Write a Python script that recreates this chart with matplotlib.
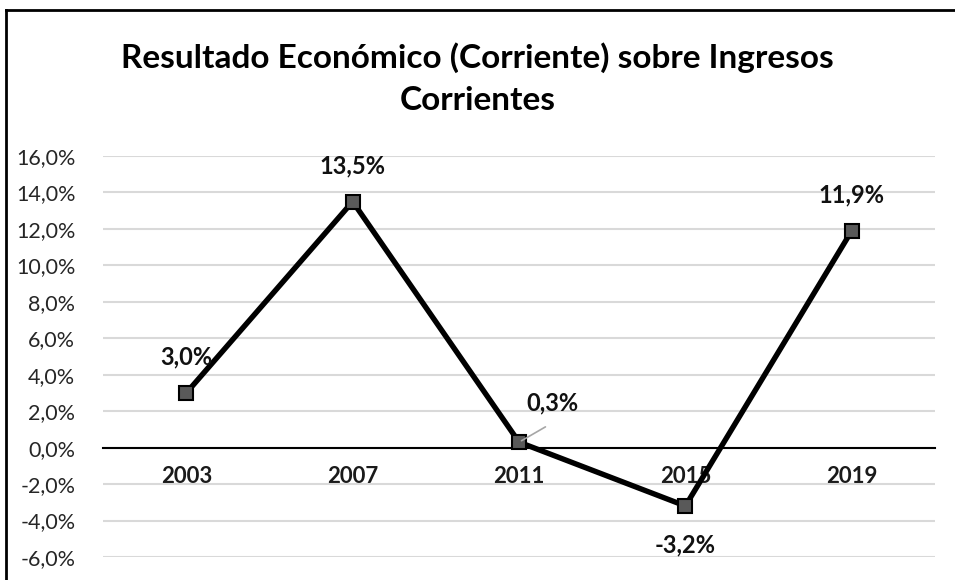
import matplotlib
matplotlib.use("Agg")
from matplotlib import pyplot as plt
from matplotlib.ticker import FuncFormatter

years = ["2003", "2007", "2011", "2015", "2019"]
values = [3.0, 13.5, 0.3, -3.2, 11.9]
y_ticks = [-6, -4, -2, 0, 2, 4, 6, 8, 10, 12, 14, 16]
title = "Resultado Económico (Corriente) sobre Ingresos\nCorrientes"

plt.rcParams["font.family"] = ["Lato", "DejaVu Sans"]

fig = plt.figure(figsize=(9.55, 5.8), dpi=100)
ax = fig.add_axes([0.108, 0.0397, 0.871, 0.6913])

xs = list(range(len(years)))
ax.plot(xs, values, color="black", lw=3.9, zorder=4,
        marker="s", markersize=10, markerfacecolor="#595959",
        markeredgecolor="black", markeredgewidth=1.5)

ax.set_xlim(-0.5, len(years) - 0.5)
ax.set_ylim(-6, 16)
ax.set_yticks(y_ticks)
ax.yaxis.set_major_formatter(FuncFormatter(lambda v, p: f"{v:.1f}%".replace(".", ",")))
ax.grid(axis="y", color="#d9d9d9", lw=1.5)
ax.set_axisbelow(True)

for s in ["top", "right", "left"]:
    ax.spines[s].set_visible(False)
ax.spines["bottom"].set_position(("data", 0))
ax.spines["bottom"].set_linewidth(1.5)
ax.spines["bottom"].set_zorder(3)

ax.set_xticks(xs)
ax.set_xticklabels(years, fontweight="bold", fontsize=16, color="#1a1a1a")
ax.tick_params(axis="x", length=0, pad=13)
ax.tick_params(axis="y", length=0, pad=20, labelsize=15.5, labelcolor="#262626")

# data labels
offsets = [(0, 26), (0, 26), (24, 28), (0, -28), (0, 26)]
for x, v, (dx, dy) in zip(xs, values, offsets):
    lbl = f"{v:.1f}%".replace(".", ",")
    ax.annotate(lbl, (x, v), xytext=(dx, dy), textcoords="offset points",
                ha="center", va="center", fontsize=17, fontweight="bold",
                color="#111111", zorder=5)
# leader line for the 0,3% label
ax.annotate("", (xs[2], values[2]), xytext=(19, 11), textcoords="offset points",
            arrowprops=dict(arrowstyle="-", color="#a6a6a6", lw=1.2,
                            shrinkA=0, shrinkB=2), zorder=5)

fig.text(0.5, 0.865, title, ha="center", va="center", fontsize=24,
         fontweight="bold", linespacing=1.55, color="black")

# chart border (left and top visible)
fig.add_artist(plt.Line2D([0.006, 0.006], [0, 0.982], color="black", lw=2,
                          transform=fig.transFigure))
fig.add_artist(plt.Line2D([0.006, 1.0], [0.982, 0.982], color="black", lw=2,
                          transform=fig.transFigure))

fig.savefig("out.png", dpi=100)
